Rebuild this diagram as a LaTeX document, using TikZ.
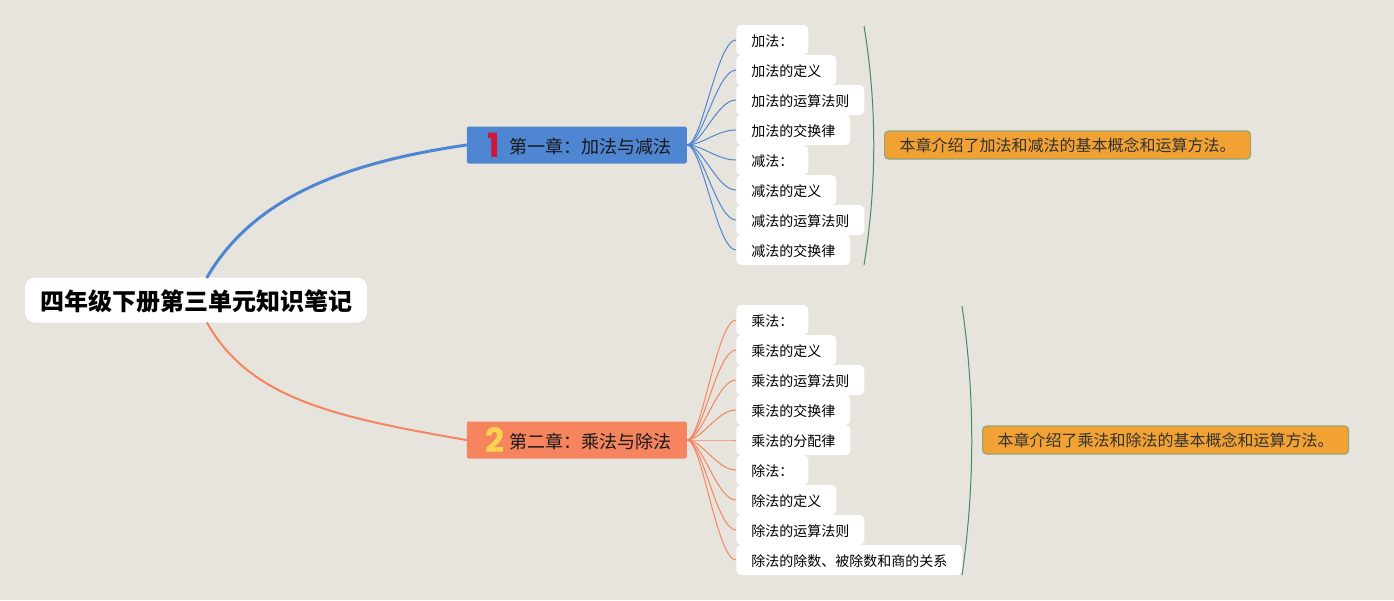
\documentclass[tikz,border=0pt]{standalone}
\usepackage{fontspec}
\setmainfont{Noto Sans CJK SC}
\newfontfamily\numfont{Poppins}
\usetikzlibrary{calc}
\definecolor{bgc}{HTML}{E6E4DC}
\definecolor{bluec}{HTML}{4F86D2}
\definecolor{orangec}{HTML}{F5845F}
\definecolor{redc}{HTML}{D0173A}
\definecolor{yellowc}{HTML}{FBD44F}
\definecolor{sumfill}{HTML}{F2A233}
\definecolor{sumdraw}{HTML}{8FA57F}
\definecolor{brk}{HTML}{3F8A78}
\tikzset{
  rootbox/.style={fill=white,rounded corners=7.5pt,minimum height=33.75pt,inner xsep=11.25pt,inner ysep=0pt,
    text height=15.5pt,text depth=0pt,font=\fontsize{18pt}{22pt}\selectfont\bfseries,text=black},
  chapbox/.style={rounded corners=1.5pt,minimum height=27.75pt,minimum width=165pt,inner sep=0pt,anchor=west},
  chaptext/.style={font=\fontsize{13.5pt}{16pt}\selectfont,text=black!90,anchor=west,inner sep=0pt},
  numtext/.style={font=\fontsize{25pt}{28pt}\selectfont\numfont\bfseries,anchor=center,inner sep=0pt},
  leafbox/.style={fill=white,rounded corners=3.5pt,minimum height=22.5pt,inner xsep=11.25pt,inner ysep=0pt,anchor=west,
    text height=10pt,text depth=0pt,font=\fontsize{10.5pt}{13pt}\selectfont,text=black},
  sumbox/.style={fill=sumfill,draw=sumdraw,line width=0.9pt,rounded corners=3pt,minimum height=21pt,inner xsep=11.25pt,inner ysep=0pt,anchor=west,
    text height=10pt,text depth=0pt,font=\fontsize{12pt}{15pt}\selectfont,text=black!80},
  branch/.style={line cap=round},
  leafline/.style={line width=0.75pt},
  bracket/.style={draw=brk,line width=0.75pt},
}
\begin{document}
\begin{tikzpicture}[x=0.75pt,y=-0.75pt]
\fill[bgc] (0,0) rectangle (1394,600);
\useasboundingbox (0,0) rectangle (1394,600);
% leaves
\foreach \n/\y/\t in {a1/40/加法：,a2/70/加法的定义,a3/100/加法的运算法则,a4/130/加法的交换律,a5/160/减法：,a6/190/减法的定义,a7/220/减法的运算法则,a8/250/减法的交换律,
  b1/320/乘法：,b2/350/乘法的定义,b3/380/乘法的运算法则,b4/410/乘法的交换律,b5/440/乘法的分配律,b6/470/除法：,b7/500/除法的定义,b8/530/除法的运算法则,b9/560/除法的除数、被除数和商的关系}
  {\node[leafbox] (\n) at (736,\y) {\t};}
% root and chapters
\node[rootbox] (root) at (196,300) {四年级下册第三单元知识笔记};
\node[chapbox,fill=bluec] (c1) at (466.5,145) {};
\node[chapbox,fill=orangec] (c2) at (466.5,440) {};
\node[numtext,text=redc] (n1) at (494,145) {1};
\node[numtext,text=yellowc] (n2) at (495,440) {2};
\node[chaptext] (t1) at (509,146.5) {第一章：加法与减法};
\node[chaptext] (t2) at (509,441.5) {第二章：乘法与除法};
% summaries
\node[sumbox] (s1) at (884,145) {本章介绍了加法和减法的基本概念和运算方法。};
\node[sumbox] (s2) at (982,440) {本章介绍了乘法和除法的基本概念和运算方法。};
% main branches
\draw[branch,bluec,line width=2.25pt] (root.64) .. controls (255,195) and (350,162) .. (c1.west);
\draw[branch,orangec,line width=1.5pt] (root.-64) .. controls (250,400) and (340,418) .. (c2.west);
% fans
\foreach \n in {a1,a2,a3,a4,a5,a6,a7,a8}
  \draw[leafline,bluec] (c1.east) .. controls ($(c1.east)+(15,0)$) and ($(\n.west)+(-19,0)$) .. (\n.west);
\foreach \n in {b1,b2,b3,b4,b5,b6,b7,b8,b9}
  \draw[leafline,orangec] (c2.east) .. controls ($(c2.east)+(15,0)$) and ($(\n.west)+(-19,0)$) .. (\n.west);
% brackets
\coordinate (p1) at (864,26); \coordinate (p2) at (864,265);
\coordinate (q1) at (962,306); \coordinate (q2) at (962,575);
\draw[bracket] (p1) .. controls (877,105) and (877,185) .. (p2);
\draw[bracket] (q1) .. controls (975,395) and (975,485) .. (q2);
\end{tikzpicture}
\end{document}
